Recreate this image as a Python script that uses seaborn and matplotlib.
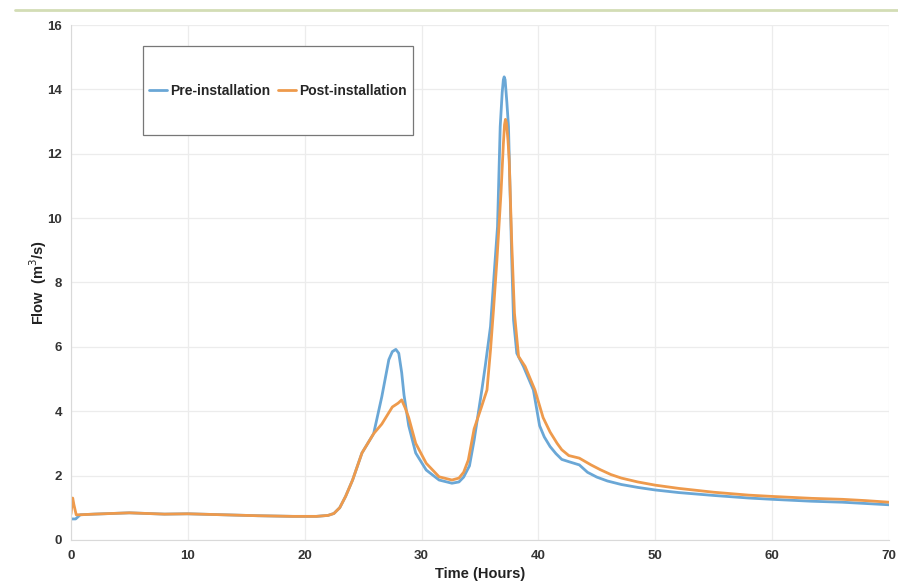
import numpy as np
import pandas as pd
import matplotlib
matplotlib.use('Agg')
import matplotlib.pyplot as plt
from matplotlib.lines import Line2D
from matplotlib.patches import Rectangle
import seaborn as sns

# values (hours, m3/s)
pre_hours = [0, 0.4, 0.8, 2, 5, 8, 10, 13, 16, 19, 21, 22, 22.5, 23, 23.5,
             24.1, 24.9, 25.9, 26.6, 27.2, 27.5, 27.8, 28.05, 28.3, 28.5,
             28.9, 29.5, 30.4, 31.5, 32.6, 33.2, 33.6, 34.1, 34.5, 35.16,
             35.45, 35.9, 36.2, 36.5, 36.73, 36.9, 37.0, 37.07, 37.15, 37.3,
             37.44, 37.58, 37.72, 37.87, 38.15, 38.72, 39.57, 40.1, 40.5,
             41.0, 41.5, 42.0, 42.6, 43.5, 44.2, 45.0, 45.9, 47.1, 48.5, 50,
             52, 55, 58, 60, 63.4, 66, 68, 70]
pre_flow = [0.65, 0.65, 0.78, 0.8, 0.84, 0.8, 0.81, 0.78, 0.75, 0.73, 0.73,
            0.76, 0.82, 1.0, 1.35, 1.86, 2.7, 3.3, 4.45, 5.6, 5.85, 5.92,
            5.8, 5.2, 4.5, 3.55, 2.7, 2.17, 1.86, 1.76, 1.8, 1.95, 2.3, 3.1,
            4.66, 5.4, 6.63, 8.2, 9.73, 12.84, 13.9, 14.3, 14.39, 14.3, 13.6,
            12.84, 10.77, 8.7, 6.84, 5.8, 5.39, 4.66, 3.55, 3.2, 2.9, 2.68,
            2.5, 2.43, 2.33, 2.1, 1.95, 1.83, 1.72, 1.63, 1.55, 1.47, 1.38,
            1.3, 1.26, 1.2, 1.17, 1.13, 1.09]

post_hours = [0, 0.15, 0.25, 0.45, 0.8, 2, 5, 8, 10, 13, 16, 19, 21, 22,
              22.5, 23, 23.5, 24.1, 24.9, 25.9, 26.6, 27.5, 28.0, 28.3, 28.6,
              28.9, 29.5, 30.4, 31.5, 32.6, 33.2, 33.6, 34.0, 34.5, 35.1,
              35.6, 35.9, 36.16, 36.45, 36.8, 37.0, 37.1, 37.18, 37.27, 37.4,
              37.5, 37.72, 37.95, 38.3, 38.86, 39.7, 40.4, 41.0, 41.6, 42.0,
              42.6, 43.5, 44.5, 45.3, 46.2, 47.1, 48.5, 50, 52, 55, 58, 60,
              63.4, 66, 68, 70]
post_flow = [0.8, 1.3, 1.1, 0.78, 0.78, 0.8, 0.84, 0.8, 0.81, 0.78, 0.75,
             0.73, 0.73, 0.76, 0.82, 1.0, 1.35, 1.86, 2.7, 3.3, 3.6, 4.13,
             4.25, 4.35, 4.1, 3.8, 3.0, 2.38, 1.96, 1.86, 1.92, 2.1, 2.48,
             3.45, 4.1, 4.66, 5.9, 7.17, 8.7, 10.8, 12.3, 12.9, 13.07, 12.95,
             12.4, 11.8, 9.2, 7.04, 5.7, 5.39, 4.66, 3.8, 3.35, 3.0, 2.8,
             2.62, 2.54, 2.33, 2.18, 2.03, 1.92, 1.8, 1.7, 1.6, 1.48, 1.39,
             1.35, 1.29, 1.26, 1.22, 1.17]

pre = pd.DataFrame({'Time': pre_hours, 'Flow': pre_flow, 'Series': 'Pre-installation'})
post = pd.DataFrame({'Time': post_hours, 'Flow': post_flow, 'Series': 'Post-installation'})
data = pd.concat([pre, post], ignore_index=True)

sns.set_style('whitegrid')
plt.rcParams['font.family'] = ['Liberation Sans', 'DejaVu Sans']

fig = plt.figure(figsize=(8.98, 5.83), dpi=100)
ax = fig.add_axes([0.079, 0.074, 0.911, 0.883])

colors = {'Pre-installation': '#6aa7d6', 'Post-installation': '#ee9a4c'}
sns.lineplot(data=data, x='Time', y='Flow', hue='Series', palette=colors,
             linewidth=2, ax=ax, sort=False, estimator=None)

ax.set_xlim(0, 70)
ax.set_ylim(0, 16)
ax.set_xticks(range(0, 71, 10))
ax.set_yticks(range(0, 17, 2))
ax.grid(color='#ececec', linewidth=0.9)
for side in ['top', 'right']:
    ax.spines[side].set_visible(False)
for side in ['left', 'bottom']:
    ax.spines[side].set_color('#d9d9d9')
ax.tick_params(axis='x', length=0, labelsize=9.5, labelcolor='#333333', pad=7)
ax.tick_params(axis='y', length=0, labelsize=9.5, labelcolor='#333333', pad=6.5)
for lab in ax.get_xticklabels() + ax.get_yticklabels():
    lab.set_fontweight('bold')

ax.set_xlabel('Time (Hours)', fontsize=10.5, fontweight='bold', color='#222222', labelpad=4)
ax.set_ylabel('Flow  (m$^3$/s)', fontsize=10.5, fontweight='bold', color='#222222')
ax.yaxis.set_label_coords(-0.027, 0.5)

# legend box
ax.add_patch(Rectangle((0.088, 0.786), 0.330, 0.173, transform=ax.transAxes,
                       facecolor='white', edgecolor='#777777', linewidth=0.9, zorder=5))
handles, labels = ax.get_legend_handles_labels()
leg = ax.legend(handles, labels, loc='center', bbox_to_anchor=(0.253, 0.872),
                ncol=2, frameon=False, handlelength=1.3, handletextpad=0.2,
                columnspacing=0.6, prop={'weight': 'bold', 'size': 10})
leg.set_zorder(6)

# thin green rule at the top of the image
fig.add_artist(Line2D([0.017, 1.0], [0.983, 0.983], color='#d3ddb5', linewidth=2))

fig.savefig('out.png', dpi=100)
